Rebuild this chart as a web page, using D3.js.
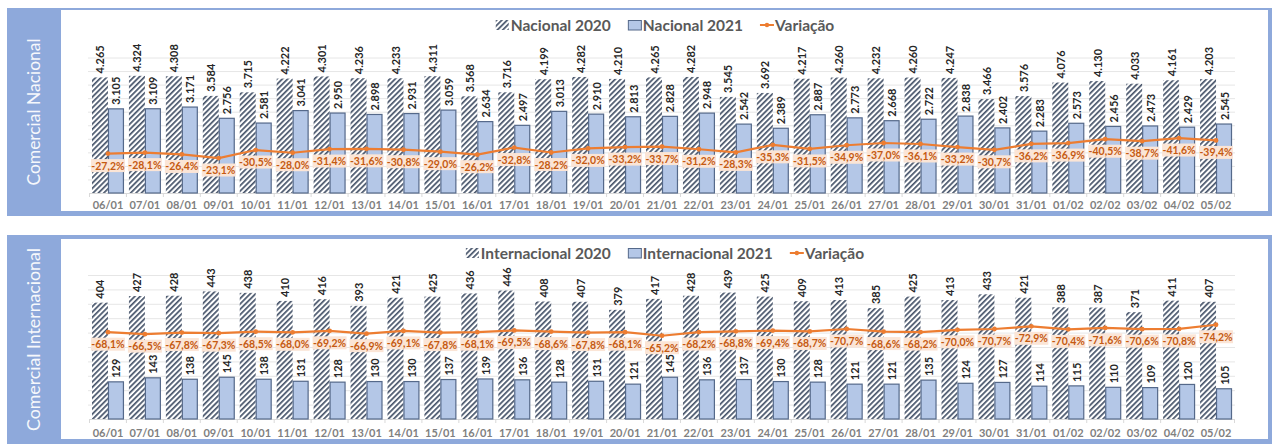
<!DOCTYPE html>
<html>
<head>
<meta charset="utf-8">
<script src="https://cdn.jsdelivr.net/npm/d3@7"></script>
<style>
  body { margin: 0; background: #fff; }
  svg { display: block; }
</style>
</head>
<body>
<div id="chart"></div>
<script>
// categories (days)
var dates = ["06/01","07/01","08/01","09/01","10/01","11/01","12/01","13/01","14/01","15/01",
             "16/01","17/01","18/01","19/01","20/01","21/01","22/01","23/01","24/01","25/01",
             "26/01","27/01","28/01","29/01","30/01","31/01","01/02","02/02","03/02","04/02","05/02"]

// comercial nacional
var nacional2020 = [4265,4324,4308,3584,3715,4222,4301,4236,4233,4311,3568,3716,4199,4282,4210,4265,
                    4282,3545,3692,4217,4260,4232,4260,4247,3466,3576,4076,4130,4033,4161,4203]
var nacional2021 = [3105,3109,3171,2756,2581,3041,2950,2898,2931,3059,2634,2497,3013,2910,2813,2828,
                    2948,2542,2389,2887,2773,2668,2722,2838,2402,2283,2573,2456,2473,2429,2545]
var nacionalVar = [-27.2,-28.1,-26.4,-23.1,-30.5,-28.0,-31.4,-31.6,-30.8,-29.0,-26.2,-32.8,-28.2,-32.0,
                   -33.2,-33.7,-31.2,-28.3,-35.3,-31.5,-34.9,-37.0,-36.1,-33.2,-30.7,-36.2,-36.9,-40.5,
                   -38.7,-41.6,-39.4]

// comercial internacional
var internacional2020 = [404,427,428,443,438,410,416,393,421,425,436,446,408,407,379,417,428,439,425,
                         409,413,385,425,413,433,421,388,387,371,411,407]
var internacional2021 = [129,143,138,145,138,131,128,130,130,137,139,136,128,131,121,145,136,137,130,
                         128,121,121,135,124,127,114,115,110,109,120,105]
var internacionalVar = [-68.1,-66.5,-67.8,-67.3,-68.5,-68.0,-69.2,-66.9,-69.1,-67.8,-68.1,-69.5,-68.6,
                        -67.8,-68.1,-65.2,-68.2,-68.8,-69.4,-68.7,-70.7,-68.6,-68.2,-70.0,-70.7,-72.9,
                        -70.4,-71.6,-70.6,-70.8,-74.2]

var W = 1275, H = 445
var blue = "#8EA9DB", orange = "#ED7D31"

var svg = d3.select("#chart").append("svg")
    .attr("width", W)
    .attr("height", H)

// portuguese number format (4.265 / -27,2%)
var pt = d3.formatLocale({decimal: ",", thousands: ".", grouping: [3], currency: ["R$", ""], minus: "-"})
var fmtNum = pt.format(",d")
var fmtPct = function(v) { return pt.format(".1f")(v) + "%" }

// hatch for the 2020 bars (transparent gaps, gridlines show through)
var pat = svg.append("defs").append("pattern")
    .attr("id", "hatch")
    .attr("patternUnits", "userSpaceOnUse")
    .attr("width", 3.8).attr("height", 3.8)
    .attr("patternTransform", "rotate(45)")
pat.append("rect").attr("width", 3.8).attr("height", 3.8).attr("fill", "#fff").attr("fill-opacity", 0.55)
pat.append("rect").attr("width", 1.7).attr("height", 3.8).attr("fill", "#48556B")

function drawPanel(p) {
    var g = svg.append("g")

    // frame + left title strip
    g.append("rect")
        .attr("x", 7).attr("y", p.y0)
        .attr("width", 1265).attr("height", p.y1 - p.y0)
        .attr("fill", blue)
    g.append("rect")
        .attr("x", 61).attr("y", p.y0 + p.padTop)
        .attr("width", 1207).attr("height", p.y1 - p.y0 - p.padTop - 5)
        .attr("fill", "#fff")
    g.append("text")
        .attr("transform", `translate(${40},${(p.y0 + p.y1) / 2}) rotate(-90)`)
        .attr("text-anchor", "middle")
        .attr("textLength", p.titleLen)
        .attr("lengthAdjust", "spacingAndGlyphs")
        .style("font-family", "Lato, 'Open Sans', sans-serif")
        .style("font-size", "18px")
        .style("fill", "#fff")
        .style("opacity", 0.92)
        .text(p.title)

    // scales
    var x = d3.scaleBand()
        .domain(dates)
        .range([89.5, 1234.5])
        .paddingInner(0.135)
        .paddingOuter(0.0675)
    var xs = d3.scaleBand()
        .domain(["a", "b"])
        .range([0, x.bandwidth()])
    var y = d3.scaleLinear()
        .domain([0, p.max])
        .range([p.base, p.top])
    var yl = d3.scaleLinear()
        .domain([0, -100])
        .range(p.lineRange)

    // gridlines
    var grid = g.append("g")
        .attr("transform", `translate(88,0)`)
        .call(d3.axisLeft(y).tickValues(d3.range(p.step, p.max + 1, p.step)).tickSize(-1147).tickFormat(""))
    grid.select(".domain").remove()
    grid.selectAll("line").attr("stroke", "#E6E6E6")

    // x axis
    var xa = g.append("g")
        .attr("transform", `translate(0,${p.base})`)
        .call(d3.axisBottom(x).tickSize(0).tickPadding(p.tickPad))
    xa.select(".domain").attr("stroke", "#D9D9D9")
    xa.selectAll("text")
        .style("font-family", "Lato, sans-serif")
        .style("font-size", "11px")
        .style("font-weight", "bold")
        .style("fill", "#808080")
    g.append("g").selectAll("line")
        .data(d3.range(dates.length + 1))
        .enter().append("line")
        .attr("x1", function(i) { return x.range()[0] + i * x.step() })
        .attr("x2", function(i) { return x.range()[0] + i * x.step() })
        .attr("y1", p.base).attr("y2", p.base + 4)
        .attr("stroke", "#D9D9D9")

    var rows = dates.map(function(d, i) {
        return {date: d, a: p.s2020[i], b: p.s2021[i], v: p.sVar[i]}
    })

    // bars 2020
    g.append("g").selectAll("rect")
        .data(rows)
        .enter().append("rect")
        .attr("x", function(d) { return x(d.date) + xs("a") })
        .attr("y", function(d) { return y(d.a) })
        .attr("width", xs.bandwidth())
        .attr("height", function(d) { return p.base - y(d.a) })
        .attr("fill", "url(#hatch)")

    // bars 2021
    g.append("g").selectAll("rect")
        .data(rows)
        .enter().append("rect")
        .attr("x", function(d) { return x(d.date) + xs("b") + 0.5 })
        .attr("y", function(d) { return y(d.b) })
        .attr("width", xs.bandwidth() - 1)
        .attr("height", function(d) { return p.base - y(d.b) })
        .attr("fill", "#B4C7E7")
        .attr("stroke", "#55698A")
        .attr("stroke-width", 1.2)

    // value labels (rotated)
    var valueLabel = function(key) {
        g.append("g").selectAll("text")
            .data(rows)
            .enter().append("text")
            .attr("transform", function(d) {
                return `translate(${x(d.date) + xs(key) + xs.bandwidth() / 2},${y(d[key]) - 4}) rotate(-90)`
            })
            .attr("dominant-baseline", "central")
            .style("font-family", "Lato, sans-serif")
            .style("font-size", "11px")
            .style("font-weight", "bold")
            .style("fill", "#262626")
            .text(function(d) { return fmtNum(d[key]) })
    }
    valueLabel("a")
    valueLabel("b")

    // variation line
    var cx = function(d) { return x(d.date) + x.bandwidth() / 2 }
    g.append("path")
        .datum(rows)
        .attr("fill", "none")
        .attr("stroke", orange)
        .attr("stroke-width", 2.2)
        .attr("d", d3.line().x(cx).y(function(d) { return yl(d.v) }))
    g.append("g").selectAll("circle")
        .data(rows)
        .enter().append("circle")
        .attr("cx", cx)
        .attr("cy", function(d) { return yl(d.v) })
        .attr("r", 2.4)
        .attr("fill", orange)

    // variation labels
    var vl = g.append("g").selectAll("g")
        .data(rows)
        .enter().append("g")
        .attr("transform", function(d) { return `translate(${cx(d)},${yl(d.v) + 12})` })
    vl.append("rect")
        .attr("x", -17).attr("y", -6.5)
        .attr("width", 34).attr("height", 13)
        .attr("fill", "#FBE5D6")
    vl.append("text")
        .attr("text-anchor", "middle")
        .attr("dominant-baseline", "central")
        .style("font-family", "Lato, sans-serif")
        .style("font-size", "10.5px")
        .style("font-weight", "bold")
        .style("fill", "#C55A11")
        .text(function(d) { return fmtPct(d.v) })

    // legend
    var lg = g.append("g")
    var items = [
        {label: p.names[0], kind: "hatch"},
        {label: p.names[1], kind: "bar"},
        {label: "Variação", kind: "line"}
    ]
    var pos = 0
    items.forEach(function(it, i) {
        var item = lg.append("g").attr("transform", `translate(${pos},0)`)
        if (it.kind == "hatch")
            item.append("rect").attr("x", 0).attr("y", -5).attr("width", 13).attr("height", 10)
                .attr("fill", "url(#hatch)")
        else if (it.kind == "bar")
            item.append("rect").attr("x", 0.5).attr("y", -4.5).attr("width", 13).attr("height", 9.5)
                .attr("fill", "#B4C7E7").attr("stroke", "#55698A")
        else {
            item.append("line").attr("x1", 0).attr("x2", 14).attr("stroke", orange).attr("stroke-width", 2)
            item.append("circle").attr("cx", 7).attr("r", 2.2).attr("fill", orange)
        }
        var t = item.append("text")
            .attr("x", 15)
            .attr("dominant-baseline", "central")
            .style("font-family", "Lato, sans-serif")
            .style("font-size", "15.5px")
            .style("font-weight", "bold")
            .style("fill", "#595959")
            .text(it.label)
        pos += 15 + t.node().getComputedTextLength() + 17
    })
    var lw = pos - 17
    lg.attr("transform", `translate(${665 - lw / 2},${p.legendY})`)
}

drawPanel({
    y0: 8, y1: 216, padTop: 2,
    title: "Comercial Nacional", titleLen: 147,
    base: 193, top: 57.5, max: 5000, step: 500,
    lineRange: [183, 74.9], tickPad: 8,
    legendY: 25,
    names: ["Nacional 2020", "Nacional 2021"],
    s2020: nacional2020, s2021: nacional2021, sVar: nacionalVar
})

drawPanel({
    y0: 235, y1: 444, padTop: 4,
    title: "Comercial Internacional", titleLen: 183,
    base: 419, top: 275, max: 500, step: 50,
    lineRange: [415.4, 293.2], tickPad: 10,
    legendY: 253,
    names: ["Internacional 2020", "Internacional 2021"],
    s2020: internacional2020, s2021: internacional2021, sVar: internacionalVar
})
</script>
</body>
</html>
